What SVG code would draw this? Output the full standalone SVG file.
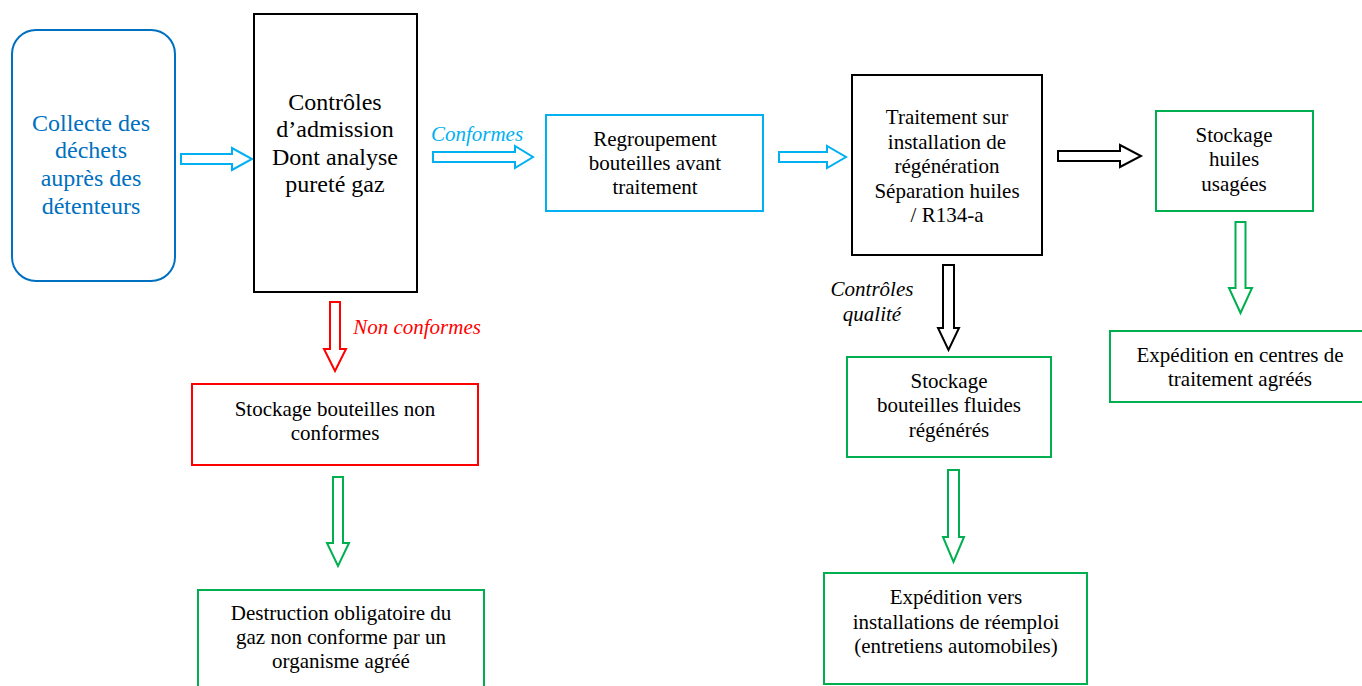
<svg xmlns="http://www.w3.org/2000/svg" width="1362" height="686" viewBox="0 0 1362 686">
<style>
.bg{fill:#fff}
.box{fill:#fff;stroke-width:2}
.blue{stroke:#0070C0}
.cyan{stroke:#00B0F0}
.black{stroke:#000}
.green{stroke:#00B050}
.red{stroke:#FF0000}
.arr{fill:#fff;stroke-width:2;stroke-linejoin:miter}
text{font-family:"Liberation Serif","Times New Roman",serif;font-size:21px;text-anchor:middle;fill:#000}
.big{font-size:24px}
.tblue{fill:#0070C0}
.lbl{font-style:italic}
.tcyan{fill:#00B0F0}
.tred{fill:#FF0000}
</style>
<rect class="bg" x="0" y="0" width="1362" height="686"/>
<g id="connectors">
<polygon class="arr cyan" points="181,154 232,154 232,148 252,159 232,170 232,164 181,164"/>
<polygon class="arr cyan" points="433,152 515,152 515,146 533,157 515,168 515,162 433,162"/>
<polygon class="arr cyan" points="779,152 827,152 827,146 846,157 827,168 827,162 779,162"/>
<polygon class="arr black" points="1058,151 1120,151 1120,145 1141,156 1120,167 1120,161 1058,161"/>
<polygon class="arr red" points="330,302 340,302 340,349 346,349 335,371 324,349 330,349"/>
<polygon class="arr black" points="943,265 954,265 954,328 959,328 948.5,350 938,328 943,328"/>
<polygon class="arr green" points="333,477 343,477 343,543 349,543 338,566 327,543 333,543"/>
<polygon class="arr green" points="948,470 959,470 959,537 964,537 953.5,562 943,537 948,537"/>
<polygon class="arr green" points="1235.5,222 1245.5,222 1245.5,288 1252,288 1240.5,313 1229,288 1235.5,288"/>
<text class="lbl tcyan" x="477" y="141">Conformes</text>
<text class="lbl tred" x="417" y="334">Non conformes</text>
<text class="lbl" x="872" y="296">Contrôles</text>
<text class="lbl" x="872" y="321">qualité</text>
</g>
<g id="collecte">
<rect class="box blue" x="12" y="30" width="163" height="251" rx="24"/>
<text class="big tblue" x="91" y="131">Collecte des</text>
<text class="big tblue" x="91" y="158">déchets</text>
<text class="big tblue" x="91" y="186">auprès des</text>
<text class="big tblue" x="91" y="214">détenteurs</text>
</g>
<g id="controles">
<rect class="box black" x="254" y="14" width="163" height="278"/>
<text class="big" x="335" y="110">Contrôles</text>
<text class="big" x="335" y="137">d’admission</text>
<text class="big" x="335" y="165">Dont analyse</text>
<text class="big" x="335" y="192">pureté gaz</text>
</g>
<g id="regroupement">
<rect class="box cyan" x="546" y="115" width="217" height="96"/>
<text x="655" y="146">Regroupement</text>
<text x="655" y="170">bouteilles avant</text>
<text x="655" y="194">traitement</text>
</g>
<g id="traitement">
<rect class="box black" x="852" y="75" width="190" height="180"/>
<text x="947" y="124">Traitement sur</text>
<text x="947" y="149">installation de</text>
<text x="947" y="173">régénération</text>
<text x="947" y="198">Séparation huiles</text>
<text x="947" y="222">/ R134-a</text>
</g>
<g id="stockage-huiles">
<rect class="box green" x="1156" y="111" width="157" height="100"/>
<text x="1234" y="142">Stockage</text>
<text x="1234" y="166">huiles</text>
<text x="1234" y="191">usagées</text>
</g>
<g id="expedition-centres">
<rect class="box green" x="1110" y="331" width="256" height="71"/>
<text x="1240" y="362">Expédition en centres de</text>
<text x="1240" y="386">traitement agréés</text>
</g>
<g id="stockage-fluides">
<rect class="box green" x="847" y="357" width="204" height="100"/>
<text x="949" y="388">Stockage</text>
<text x="949" y="412">bouteilles fluides</text>
<text x="949" y="437">régénérés</text>
</g>
<g id="expedition-reemploi">
<rect class="box green" x="824" y="573" width="263" height="111"/>
<text x="956" y="604">Expédition vers</text>
<text x="956" y="629">installations de réemploi</text>
<text x="956" y="653">(entretiens automobiles)</text>
</g>
<g id="stockage-non-conformes">
<rect class="box red" x="192" y="384" width="286" height="81"/>
<text x="335" y="416">Stockage bouteilles non</text>
<text x="335" y="440">conformes</text>
</g>
<g id="destruction">
<rect class="box green" x="198" y="590" width="286" height="110"/>
<text x="341" y="620">Destruction obligatoire du</text>
<text x="341" y="644">gaz non conforme par un</text>
<text x="341" y="668">organisme agréé</text>
</g>
</svg>
